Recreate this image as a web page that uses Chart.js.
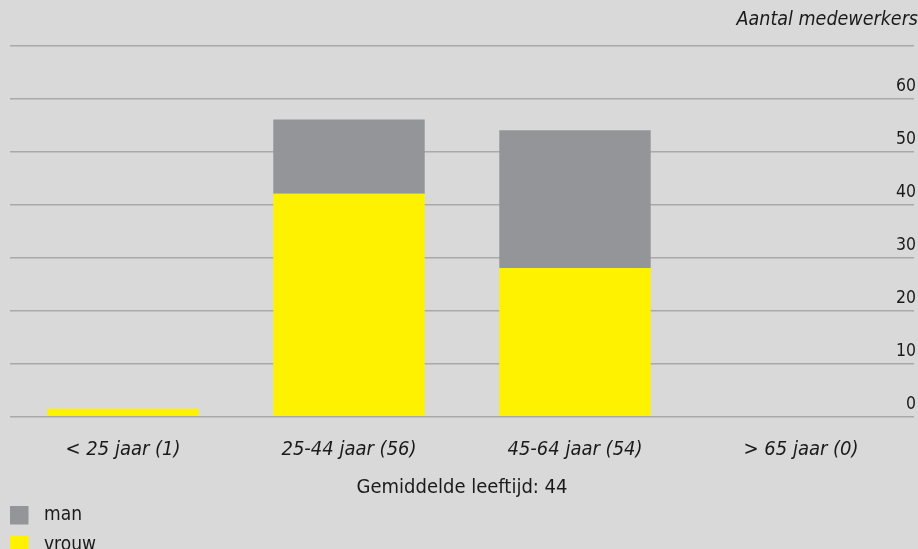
<!DOCTYPE html>
<html>
<head>
    <meta charset="UTF-8">
    <title>Leeftijdsopbouw medewerkers</title>
    <script src="https://cdn.jsdelivr.net/npm/chart.js"></script>
    <style>
        body { margin: 0; background: #d9d9d9; }
        canvas { display: block; }
    </style>
</head>
<body>
    <canvas id="myChart" width="918" height="549"></canvas>
    <script>
        // data
        const categories = ['< 25 jaar (1)', '25-44 jaar (56)', '45-64 jaar (54)', '> 65 jaar (0)'];
        const vrouw = [1.5, 42, 28, 0];
        const man = [0, 14, 26, 0];
        const yTicks = [0, 10, 20, 30, 40, 50, 60, 70];

        const FONT = '"DejaVu Sans Condensed", "Liberation Sans Narrow", "DejaVu Sans", sans-serif';
        const TEXT = '#1a1a1a';

        // legend drawn as a column under the axis title
        const columnLegend = {
            id: 'columnLegend',
            afterDraw(chart) {
                const c = chart.ctx;
                const sets = chart.data.datasets.slice().reverse();
                c.save();
                c.font = '19px ' + FONT;
                c.textBaseline = 'middle';
                sets.forEach((ds, i) => {
                    const y = 515 + i * 30;
                    c.fillStyle = ds.backgroundColor;
                    c.fillRect(10, y - 9, 18.5, 18.5);
                    c.fillStyle = TEXT;
                    c.fillText(ds.label, 44, y);
                });
                c.restore();
            }
        };

        const ctx = document.getElementById('myChart').getContext('2d');
        const chart = new Chart(ctx, {
            type: 'bar',
            data: {
                labels: categories,
                datasets: [
                    { label: 'vrouw', data: vrouw, backgroundColor: '#fff200' },
                    { label: 'man', data: man, backgroundColor: '#939598' }
                ]
            },
            options: {
                responsive: false,
                animation: false,
                barPercentage: 0.67,
                categoryPercentage: 1,
                layout: {
                    padding: { left: 10, right: 0, top: 0, bottom: 49 }
                },
                plugins: {
                    legend: { display: false },
                    tooltip: { enabled: false },
                    title: {
                        display: true,
                        text: 'Aantal medewerkers',
                        align: 'end',
                        color: TEXT,
                        font: { family: FONT, size: 19.5, style: 'italic', weight: 'normal' },
                        padding: { top: 8, bottom: 14 }
                    }
                },
                scales: {
                    x: {
                        stacked: true,
                        grid: { display: false, drawTicks: false },
                        border: { display: false },
                        ticks: {
                            color: TEXT,
                            padding: 21,
                            font: { family: FONT, size: 20, style: 'italic' }
                        },
                        title: {
                            display: true,
                            text: 'Gemiddelde leeftijd: 44',
                            color: TEXT,
                            font: { family: FONT, size: 20 },
                            padding: { top: -6.5, bottom: 0 }
                        }
                    },
                    y: {
                        stacked: true,
                        position: 'right',
                        min: 0,
                        max: 70,
                        afterBuildTicks: axis => {
                            axis.ticks = yTicks.map(v => ({ value: v }));
                        },
                        grid: {
                            color: '#a9a9a9',
                            lineWidth: 1.5,
                            drawTicks: false
                        },
                        border: { display: false },
                        ticks: {
                            mirror: true,
                            padding: 2,
                            labelOffset: -12,
                            color: TEXT,
                            font: { family: FONT, size: 17.5 },
                            callback: v => (v === 70 ? '' : v)
                        }
                    }
                }
            },
            plugins: [columnLegend]
        });
    </script>
</body>
</html>
